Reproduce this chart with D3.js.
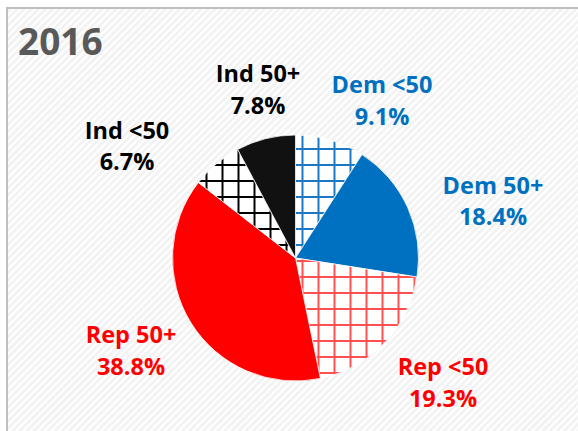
<!DOCTYPE html>
<html>
<head>
<meta charset="utf-8">
<script src="https://cdn.jsdelivr.net/npm/d3@7"></script>
<style>
  html, body { margin: 0; padding: 0; background: #ffffff; }
  svg { display: block; }
  text { font-family: "Open Sans", "Liberation Sans", sans-serif; font-weight: bold; }
</style>
</head>
<body>
<svg id="chart" width="578" height="431"></svg>
<script>
// ---- data ----
const title = "2016";
const categories = ["Dem <50", "Dem 50+", "Rep <50", "Rep 50+", "Ind <50", "Ind 50+"];
const values = [9.1, 18.4, 19.3, 38.8, 6.7, 7.8];
const valueLabels = ["9.1%", "18.4%", "19.3%", "38.8%", "6.7%", "7.8%"];

// ---- styles / layout ----
const sliceFills = ["url(#hatchBlue)", "#0070c0", "url(#hatchRed)", "#ff0000", "url(#hatchBlack)", "#111111"];
const labelColors = ["#0070c0", "#0070c0", "#ff0000", "#ff0000", "#000000", "#000000"];
const labelPos = [[382, 93], [493, 193.5], [443, 375], [131, 343], [127, 138.5], [258, 82]];
const lineGap = 31.5;
const cx = 295.5, cy = 258, radius = 123;

const svg = d3.select("#chart");
const defs = svg.append("defs");

// background stripe texture
const bg = defs.append("pattern")
  .attr("id", "bgStripe").attr("patternUnits", "userSpaceOnUse")
  .attr("width", 5).attr("height", 5)
  .attr("patternTransform", "rotate(45)");
bg.append("rect").attr("width", 5).attr("height", 5).attr("fill", "#f2f2f2");
bg.append("rect").attr("width", 2.2).attr("height", 5).attr("fill", "#ffffff");

// hatch patterns
function hatch(id, color) {
  const p = defs.append("pattern")
    .attr("id", id).attr("patternUnits", "userSpaceOnUse")
    .attr("width", 16).attr("height", 16)
    .attr("x", 0).attr("y", 0);
  p.append("rect").attr("width", 16).attr("height", 16).attr("fill", "#ffffff");
  p.append("rect").attr("x", 6).attr("y", 0).attr("width", 2).attr("height", 16).attr("fill", color);
  p.append("rect").attr("x", 0).attr("y", 2).attr("width", 16).attr("height", 2).attr("fill", color);
}
hatch("hatchBlue", "#1b78c6");
hatch("hatchRed", "#ff5050");
hatch("hatchBlack", "#000000");

// chart area
svg.append("rect").attr("x", 0).attr("y", 0).attr("width", 578).attr("height", 431).attr("fill", "#ffffff");
svg.append("rect")
  .attr("x", 7).attr("y", 8).attr("width", 590).attr("height", 440)
  .attr("fill", "url(#bgStripe)")
  .attr("stroke", "#bfbfbf").attr("stroke-width", 2);

// title
svg.append("text")
  .attr("x", 18).attr("y", 55)
  .attr("font-size", 37).attr("fill", "#595959")
  .text(title);

// pie
const pie = d3.pie().sort(null).value(d => d)(values);
const arc = d3.arc().innerRadius(0).outerRadius(radius);

const g = svg.append("g").attr("transform", `translate(${cx},${cy})`);
g.selectAll("path.slice")
  .data(pie)
  .join("path")
  .attr("class", "slice")
  .attr("d", arc)
  .attr("fill", (d, i) => sliceFills[i])
  .attr("stroke", "#ffffff")
  .attr("stroke-width", 0.75);

// labels
const lab = svg.selectAll("g.lab")
  .data(categories)
  .join("g")
  .attr("class", "lab")
  .attr("transform", (d, i) => `translate(${labelPos[i][0]},${labelPos[i][1]})`);
lab.append("text")
  .attr("text-anchor", "middle")
  .attr("font-size", 23.5)
  .attr("fill", (d, i) => labelColors[i])
  .text(d => d);
lab.append("text")
  .attr("text-anchor", "middle")
  .attr("y", lineGap)
  .attr("font-size", 23.5)
  .attr("fill", (d, i) => labelColors[i])
  .text((d, i) => valueLabels[i]);
</script>
</body>
</html>
